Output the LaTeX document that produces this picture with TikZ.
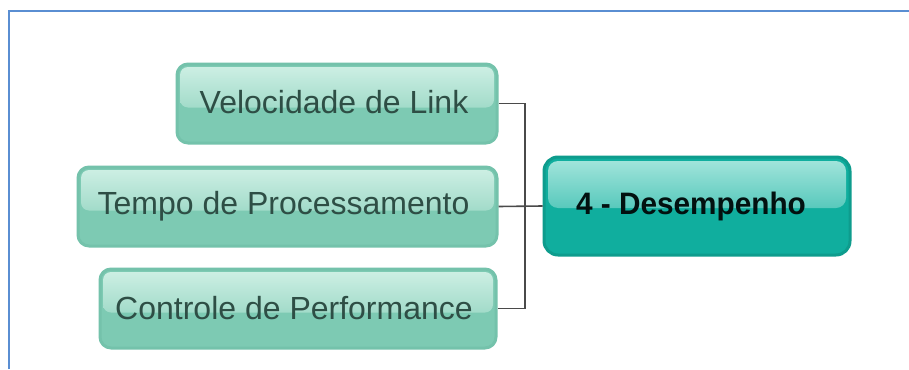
\documentclass[tikz,border=0pt]{standalone}
\usepackage{fontspec}
\setmainfont{Liberation Sans}
\usetikzlibrary{calc}
\definecolor{frameblue}{HTML}{5A8ED2}
\definecolor{childbase}{HTML}{7DCAB3}
\definecolor{childedge}{HTML}{74C2AB}
\definecolor{childlight}{HTML}{CFF0E5}
\definecolor{childtext}{HTML}{2E4E45}
\definecolor{mainbase}{HTML}{10AE9E}
\definecolor{mainedge}{HTML}{0E9C8D}
\definecolor{mainlight}{HTML}{A6E6DD}
\definecolor{linkgray}{HTML}{4A4A4A}
\tikzset{
  childbox/.style={draw=childedge, line width=3pt, fill=childbase,
    rounded corners=11pt, inner sep=0pt, font=\fontsize{32}{36}\selectfont,
    text=childtext,
    path picture={\fill[rounded corners=8pt, top color=childlight, bottom color=childbase]
      ($(path picture bounding box.north west)+(3pt,-3pt)$) rectangle
      ($(path picture bounding box.east)+(-3pt,-4pt)$);}},
  mainbox/.style={draw=mainedge, line width=3pt, fill=mainbase,
    rounded corners=14pt, inner sep=0pt, font=\bfseries\fontsize{31}{35}\selectfont,
    text=black!90!mainbase,
    path picture={\fill[rounded corners=10pt, top color=mainlight, bottom color=mainbase]
      ($(path picture bounding box.north west)+(4pt,-4pt)$) rectangle
      ($(path picture bounding box.east)+(-4pt,-2pt)$);}},
  link/.style={draw=linkgray, line width=1.6pt},
}
\begin{document}
\begin{tikzpicture}[x=1pt,y=-1pt]
\useasboundingbox (0,0) rectangle (909,369);
\fill[white] (0,0) rectangle (909,369);
% frame
\draw[frameblue, line width=2.2pt] (9,369) -- (9,11) -- (909,11);
% children
\node[childbox, minimum width=320pt, minimum height=79pt] (v) at (337,103.5)
  {\hspace*{-6pt}\raisebox{4pt}{Velocidade de Link}};
\node[childbox, minimum width=419pt, minimum height=79pt] (t) at (287.5,206.5)
  {\hspace*{-8pt}\raisebox{1pt}{Tempo de Processamento}};
\node[childbox, minimum width=396pt, minimum height=79pt] (c) at (298,308.5)
  {\hspace*{-8pt}\raisebox{1pt}{Controle de Performance}};
% main
\node[mainbox, minimum width=306pt, minimum height=98pt] (m) at (697,206)
  {\hspace*{-12pt}\scalebox{0.96}[1]{4 - Desempenho}};
% connectors
\coordinate (j) at (525,206.5);
\draw[link] (v.east) -| (j |- c.east) -- (c.east);
\draw[link] (t.east) -- (m.west);
\end{tikzpicture}
\end{document}
